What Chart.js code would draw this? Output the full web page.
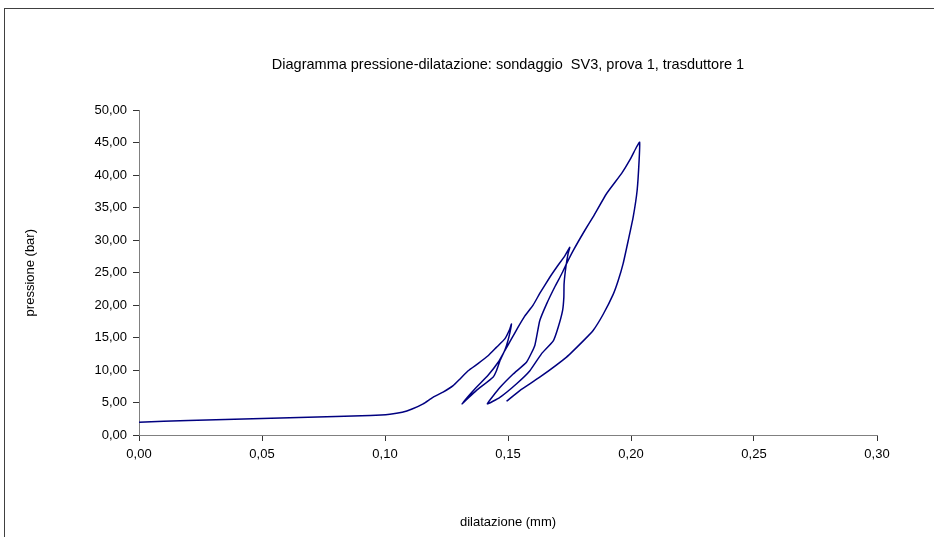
<!DOCTYPE html>
<html>
<head>
<meta charset="utf-8">
<script src="https://cdn.jsdelivr.net/npm/chart.js@4.4.1/dist/chart.umd.min.js"></script>
<style>
  html, body { margin: 0; padding: 0; background: #fff; overflow: hidden; }
  #frame { position: absolute; left: 4px; top: 8px; width: 1000px; height: 700px; border: 1px solid #404040; box-sizing: border-box; }
  #wrap { position: absolute; left: 0; top: 0; width: 934px; height: 537px; }
</style>
</head>
<body>
<div id="frame"></div>
<div id="wrap"><canvas id="c" width="934" height="537"></canvas></div>
<script>
// Chart text
const chartTitle = 'Diagramma pressione-dilatazione: sondaggio  SV3, prova 1, trasduttore 1';
const xTitle = 'dilatazione (mm)';
const yTitle = 'pressione (bar)';

// Branches of the curve (dilatazione mm, pressione bar), in drawing order
const carico1X   = [0, 0.02, 0.05, 0.08, 0.094, 0.102, 0.107, 0.111, 0.1155, 0.1195, 0.1236, 0.1277, 0.1304, 0.1338, 0.1378, 0.1419, 0.1453, 0.1487, 0.1507, 0.1514];
const carico1Y   = [1.95, 2.25, 2.55, 2.85, 3.0, 3.2, 3.5, 4.0, 4.8, 5.8, 6.6, 7.6, 8.6, 9.9, 11.0, 12.2, 13.5, 14.8, 16.3, 17.1];
const scarico1X  = [0.1505, 0.1494, 0.1483, 0.1467, 0.1453, 0.1439, 0.137, 0.1313];
const scarico1Y  = [15.3, 13.8, 12.7, 11.4, 9.9, 8.9, 6.8, 4.8];
const ricarico1X = [0.1365, 0.1419, 0.146, 0.1487, 0.1514, 0.1541, 0.1568, 0.1602, 0.1629, 0.167, 0.1697, 0.1731, 0.1751];
const ricarico1Y = [7.1, 9.2, 11.2, 13.0, 14.8, 16.6, 18.3, 20.0, 21.8, 24.3, 25.8, 27.6, 28.9];
const scarico2X  = [0.1744, 0.1735, 0.1728, 0.1727, 0.1722, 0.1704, 0.1684, 0.1636, 0.1589, 0.1535, 0.1467, 0.1416];
const scarico2Y  = [27.9, 25.8, 23.3, 21.2, 19.2, 16.6, 14.5, 12.5, 9.9, 7.9, 5.8, 4.8];
const ricarico2X = [0.1467, 0.1521, 0.1575, 0.1609, 0.1629, 0.1657, 0.169, 0.1718, 0.1738, 0.1765, 0.1812, 0.1846, 0.1901, 0.1962, 0.1996, 0.2023, 0.2035];
const ricarico2Y = [7.3, 9.4, 11.2, 13.8, 17.6, 20.2, 22.8, 24.8, 26.4, 28.4, 31.5, 33.6, 37.2, 40.3, 42.4, 44.4, 45.1];
const scarico3X  = [0.2033, 0.2025, 0.2009, 0.1989, 0.1968, 0.1948, 0.1928, 0.1887, 0.1846, 0.1806, 0.1738, 0.1629, 0.1548, 0.1494];
const scarico3Y  = [42.3, 37.7, 33.6, 30.0, 26.4, 23.8, 21.7, 18.6, 16.1, 14.5, 12.0, 8.9, 6.85, 5.2];

// Axis ranges / ticks
const xMin = 0, xMax = 0.30, xStep = 0.05;
const yMin = 0, yMax = 50, yStep = 5;

function pts(xs, ys) { return xs.map((x, i) => ({ x: x, y: ys[i] })); }
const points = [].concat(
  pts(carico1X, carico1Y),
  pts(scarico1X, scarico1Y),
  pts(ricarico1X, ricarico1Y),
  pts(scarico2X, scarico2Y),
  pts(ricarico2X, ricarico2Y),
  pts(scarico3X, scarico3Y)
);

const fmt = v => Number(v).toFixed(2).replace('.', ',');
const FAMILY = '"Liberation Sans", Arial, sans-serif';
const FONT = { family: FAMILY, size: 13 };

new Chart(document.getElementById('c'), {
  type: 'scatter',
  data: {
    datasets: [{
      data: points,
      showLine: true,
      borderColor: '#000080',
      borderWidth: 1.5,
      pointRadius: 0,
      pointHoverRadius: 0,
      tension: 0.15,
      fill: false
    }]
  },
  options: {
    responsive: false,
    animation: false,
    events: [],
    layout: { padding: { left: 23, right: 57, top: 0, bottom: 7 } },
    plugins: {
      legend: { display: false },
      tooltip: { enabled: false },
      title: {
        display: true,
        text: chartTitle,
        color: '#000',
        font: { family: FAMILY, size: 14.5, weight: 'normal' },
        fullSize: false,
        padding: { top: 56, bottom: 37 }
      }
    },
    scales: {
      x: {
        type: 'linear',
        min: xMin, max: xMax,
        afterFit: s => { s.height = 95; },
        ticks: { stepSize: xStep, callback: fmt, color: '#000', font: FONT, padding: 6, maxRotation: 0 },
        grid: { display: true, drawOnChartArea: false, drawTicks: true, tickLength: 6, color: '#333' },
        border: { display: true, color: '#808080', width: 1 },
        title: { display: true, text: xTitle, color: '#000', font: FONT, padding: 0 }
      },
      y: {
        type: 'linear',
        min: yMin, max: yMax,
        afterFit: s => { s.width = 116; },
        ticks: { stepSize: yStep, callback: fmt, color: '#000', font: FONT, padding: 6 },
        grid: { display: true, drawOnChartArea: false, drawTicks: true, tickLength: 6, color: '#333' },
        border: { display: true, color: '#808080', width: 1 },
        title: { display: true, text: yTitle, color: '#000', font: FONT, padding: 0 }
      }
    }
  }
});
</script>
</body>
</html>
